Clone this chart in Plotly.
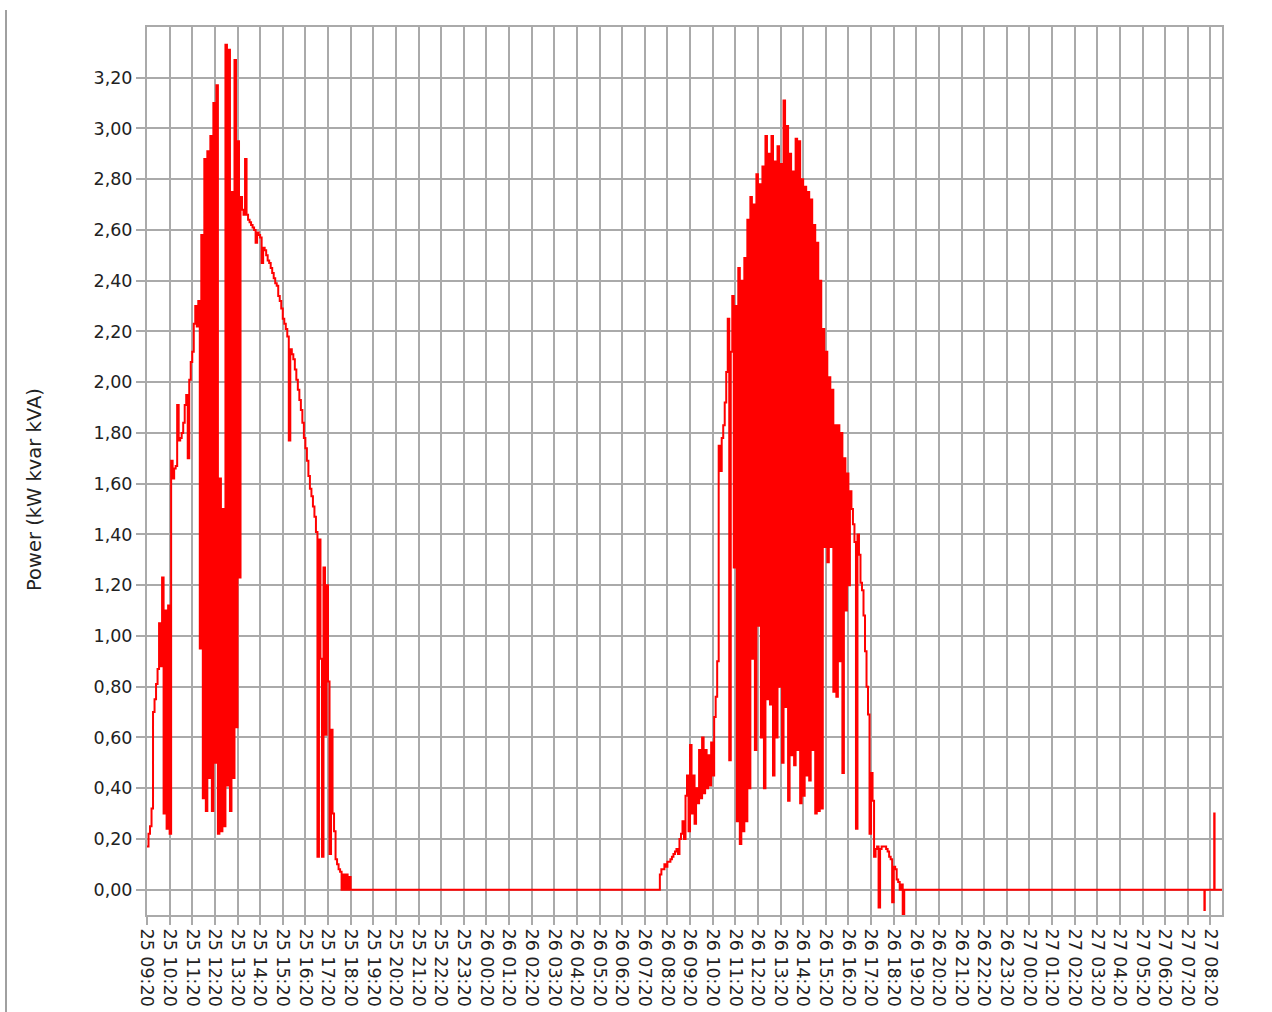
import pandas as pd
import plotly.graph_objects as go

# ---- data ----
# Day 1: samples every 4 minutes starting 25 09:20
day1_start = "2024-05-25 09:20"
day1_power = [
    0.17, 0.22, 0.25, 0.32, 0.70, 0.75, 0.81, 0.87, 1.05, 0.88,
    1.23, 0.30, 1.10, 0.24, 1.12, 0.22, 1.69, 1.62, 1.66, 1.67,
    1.91, 1.77, 1.78, 1.80, 1.84, 1.91, 1.95, 1.70, 2.01, 2.08,
    2.12, 2.23, 2.30, 2.22, 2.32, 0.95, 2.58, 0.36, 2.88, 0.31,
    2.91, 0.44, 2.97, 0.31, 3.10, 0.50, 3.17, 0.22, 1.62, 0.23,
    1.50, 0.25, 3.33, 0.41, 3.31, 0.31, 2.75, 0.44, 3.27, 0.64,
    2.95, 1.23, 2.73, 2.68, 2.66, 2.88, 2.66, 2.64, 2.63, 2.62,
    2.61, 2.60, 2.55, 2.59, 2.58, 2.57, 2.47, 2.53, 2.52, 2.50,
    2.48, 2.47, 2.45, 2.43, 2.41, 2.39, 2.38, 2.34, 2.32, 2.29,
    2.25, 2.23, 2.21, 2.18, 1.77, 2.13, 2.11, 2.09, 2.05, 2.01,
    1.97, 1.93, 1.89, 1.84, 1.78, 1.74, 1.69, 1.63, 1.58, 1.55,
    1.51, 1.47, 1.41, 0.13, 1.38, 0.91, 0.13, 1.27, 0.61, 1.20,
    0.82, 0.14, 0.63, 0.30, 0.23, 0.12, 0.10, 0.08, 0.07, 0.00,
    0.06, 0.00, 0.06, 0.00, 0.05, 0.00,
]

# Day 2: samples every 4 minutes starting 26 07:56
day2_start = "2024-05-26 07:56"
day2_power = [
    0.00, 0.06, 0.08, 0.08, 0.10, 0.09, 0.11, 0.11, 0.12, 0.13,
    0.14, 0.15, 0.16, 0.14, 0.20, 0.22, 0.27, 0.20, 0.37, 0.45,
    0.23, 0.57, 0.30, 0.45, 0.26, 0.40, 0.34, 0.55, 0.36, 0.60,
    0.38, 0.55, 0.40, 0.53, 0.41, 0.58, 0.45, 0.68, 0.76, 0.90,
    1.75, 1.65, 1.78, 1.83, 1.92, 2.04, 2.25, 0.51, 2.12, 2.34,
    1.27, 2.30, 0.27, 2.45, 0.18, 2.40, 0.23, 2.49, 0.27, 2.64,
    0.40, 2.73, 0.91, 2.70, 0.55, 2.82, 1.04, 2.78, 0.60, 2.85,
    0.40, 2.97, 0.75, 2.90, 0.73, 2.97, 0.45, 2.87, 0.60, 2.93,
    0.80, 2.86, 0.50, 3.11, 0.72, 3.01, 0.35, 2.90, 0.53, 2.83,
    0.49, 2.96, 0.55, 2.95, 0.34, 2.80, 0.37, 2.77, 0.45, 2.75,
    0.43, 2.72, 0.55, 2.62, 0.30, 2.55, 0.31, 2.40, 0.32, 2.21,
    1.35, 2.12, 1.29, 2.02, 1.35, 1.97, 0.78, 1.83, 0.76, 1.83,
    0.90, 1.80, 0.46, 1.70, 1.10, 1.64, 1.20, 1.57, 1.50, 1.44,
    1.37, 0.24, 1.40, 1.32, 1.21, 1.18, 1.08, 0.94, 0.80, 0.69,
    0.22, 0.46, 0.35, 0.13, 0.16, 0.17, -0.07, 0.16, 0.17, 0.17,
    0.17, 0.16, 0.15, 0.13, 0.12, -0.05, 0.09, 0.08, 0.04, 0.03,
    0.00, 0.02, -0.12, 0.00,
]

# Morning of day 3
tail_times = ["2024-05-27 08:00", "2024-05-27 08:04", "2024-05-27 08:05",
              "2024-05-27 08:30", "2024-05-27 08:31", "2024-05-27 08:51"]
tail_power = [0.00, -0.08, 0.00, 0.30, 0.00, 0.00]

y_tick_values = [0.0, 0.2, 0.4, 0.6, 0.8, 1.0, 1.2, 1.4, 1.6, 1.8,
                 2.0, 2.2, 2.4, 2.6, 2.8, 3.0, 3.2]
x_range = ["2024-05-25 09:20", "2024-05-27 08:50:40"]
y_range = [-0.1, 3.4]

# ---- build series ----
t1 = pd.date_range(day1_start, periods=len(day1_power), freq="4min")
t2 = pd.date_range(day2_start, periods=len(day2_power), freq="4min")
t3 = pd.to_datetime(tail_times)
times = list(t1) + list(t2) + list(t3)
power = day1_power + day2_power + tail_power

grid = "#aaaaaa"
font_family = "DejaVu Sans"
text_color = "#222222"

fig = go.Figure()
fig.add_trace(go.Scatter(
    x=times, y=power, mode="lines",
    line=dict(color="#ff0000", width=2, shape="hv"),
    showlegend=False, hoverinfo="skip",
))

fig.update_layout(
    width=1272, height=1012,
    margin=dict(l=147, r=50, t=27, b=97, autoexpand=False),
    paper_bgcolor="white", plot_bgcolor="white",
    font=dict(family=font_family, size=17, color=text_color),
    showlegend=False,
)

fig.update_xaxes(
    type="date", range=x_range,
    tickmode="linear", tick0="2024-05-25 09:20", dtick=3600000,
    tickformat="%d %H:%M", tickangle=90,
    showgrid=True, gridcolor=grid, gridwidth=2,
    ticks="outside", ticklen=8, tickwidth=2, tickcolor=grid,
    showline=True, linecolor=grid, linewidth=2, mirror=True,
    zeroline=False,
    tickfont=dict(family=font_family, size=17.5, color=text_color),
)

fig.update_yaxes(
    range=y_range,
    tickmode="array", tickvals=y_tick_values,
    ticktext=[f"{v:.2f}".replace(".", ",") for v in y_tick_values],
    showgrid=True, gridcolor=grid, gridwidth=2,
    ticks="outside", ticklen=9, tickwidth=2, tickcolor=grid,
    showline=True, linecolor=grid, linewidth=2, mirror=True,
    zeroline=False,
    tickfont=dict(family=font_family, size=17.5, color=text_color),
)

fig.add_annotation(
    text="Power (kW kvar kVA)", textangle=-90,
    xref="paper", yref="paper",
    x=(35 - 147) / 1075, y=(915 - 490) / 888,
    xanchor="center", yanchor="middle", showarrow=False,
    font=dict(family=font_family, size=19.5, color=text_color),
)

# left separator line of the surrounding panel
fig.add_shape(
    type="line", xref="paper", yref="paper",
    x0=(6 - 147) / 1075, x1=(6 - 147) / 1075,
    y0=(915 - 10) / 888, y1=(915 - 1012) / 888,
    line=dict(color="#a0a0a0", width=2),
)

fig.write_html(
    "out.html",
    config={"displayModeBar": False},
    post_script="document.body.style.margin='0px';document.body.style.overflow='hidden';",
)
